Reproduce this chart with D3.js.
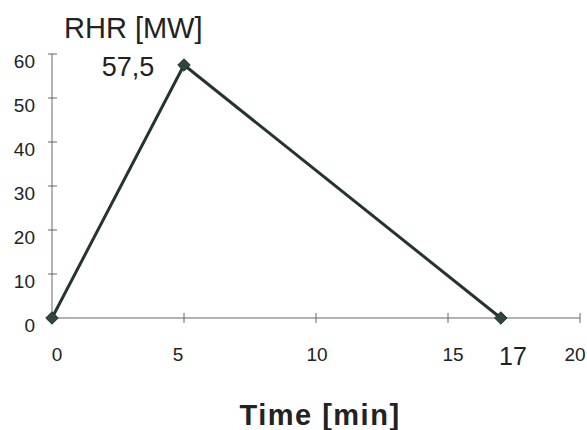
<!DOCTYPE html>
<html>
<head>
<meta charset="utf-8">
<script src="https://cdn.jsdelivr.net/npm/d3@7"></script>
<style>
  html, body { margin: 0; padding: 0; background: #fff; }
  svg { display: block; font-family: Arial, "Liberation Sans", sans-serif; }
</style>
</head>
<body>
<svg id="chart" width="587" height="430"></svg>
<script>
// Heat release rate curve: time [min] vs RHR [MW]
const times = [0, 5, 17];
const rhr = [0, 57.5, 0];
const xTicks = [0, 5, 10, 15, 20];
const yTicks = [0, 10, 20, 30, 40, 50, 60];
const peakLabel = "57,5";
const endLabel = "17";

const svg = d3.select("#chart");
const x = d3.scaleLinear().domain([0, 20]).range([52, 580]);
const y = d3.scaleLinear().domain([0, 60]).range([318, 54]);

const axisColor = "#666";
const textColor = "#222";

// y axis line with cross ticks
svg.append("line")
  .attr("x1", x(0)).attr("x2", x(0))
  .attr("y1", y(60)).attr("y2", y(0))
  .attr("stroke", axisColor).attr("stroke-width", 1);
svg.selectAll(".ytick").data(yTicks).join("line")
  .attr("x1", x(0) - 4).attr("x2", x(0) + 5)
  .attr("y1", d => y(d)).attr("y2", d => y(d))
  .attr("stroke", axisColor).attr("stroke-width", 1);
svg.selectAll(".ylab").data(yTicks).join("text")
  .attr("x", 35).attr("y", d => y(d) + 14)
  .attr("text-anchor", "end")
  .attr("font-size", 19).attr("fill", textColor)
  .text(d => d);

// x axis line with cross ticks
svg.append("line")
  .attr("x1", x(0)).attr("x2", x(20))
  .attr("y1", y(0)).attr("y2", y(0))
  .attr("stroke", axisColor).attr("stroke-width", 1);
svg.selectAll(".xtick").data(xTicks).join("line")
  .attr("x1", d => x(d)).attr("x2", d => x(d))
  .attr("y1", y(0) - 5).attr("y2", y(0) + 5)
  .attr("stroke", axisColor).attr("stroke-width", 1);
const xLabOffset = {0: 5, 5: -6, 10: 1, 15: 5, 20: -5};
svg.selectAll(".xlab").data(xTicks).join("text")
  .attr("x", d => x(d) + xLabOffset[d]).attr("y", 361)
  .attr("text-anchor", "middle")
  .attr("font-size", 19).attr("fill", textColor)
  .text(d => d);

// curve
const line = d3.line().x((d, i) => x(times[i])).y(d => y(d));
svg.append("path")
  .datum(rhr)
  .attr("d", line)
  .attr("fill", "none")
  .attr("stroke", "#263430")
  .attr("stroke-width", 3)
  .attr("stroke-linejoin", "round");

// diamond markers
svg.selectAll(".pt").data(rhr).join("path")
  .attr("transform", (d, i) => `translate(${x(times[i])},${y(d)})`)
  .attr("d", d3.symbol().type(d3.symbolDiamond2).size(100))
  .attr("fill", "#2f4640")
  .attr("stroke", "#1f2e2a").attr("stroke-width", 1);

// annotations
svg.append("text")
  .attr("x", 128).attr("y", 76)
  .attr("text-anchor", "middle")
  .attr("font-size", 27).attr("fill", textColor)
  .text(peakLabel);
svg.append("text")
  .attr("x", 513).attr("y", 365)
  .attr("text-anchor", "middle")
  .attr("font-size", 25).attr("fill", textColor)
  .text(endLabel);

// axis titles
svg.append("text")
  .attr("x", 64).attr("y", 38)
  .attr("font-size", 29).attr("fill", textColor)
  .text("RHR [MW]");
svg.append("text")
  .attr("x", 320).attr("y", 425)
  .attr("text-anchor", "middle")
  .attr("font-size", 29).attr("font-weight", "bold").attr("fill", textColor)
  .attr("letter-spacing", 1.5)
  .text("Time [min]");
</script>
</body>
</html>
